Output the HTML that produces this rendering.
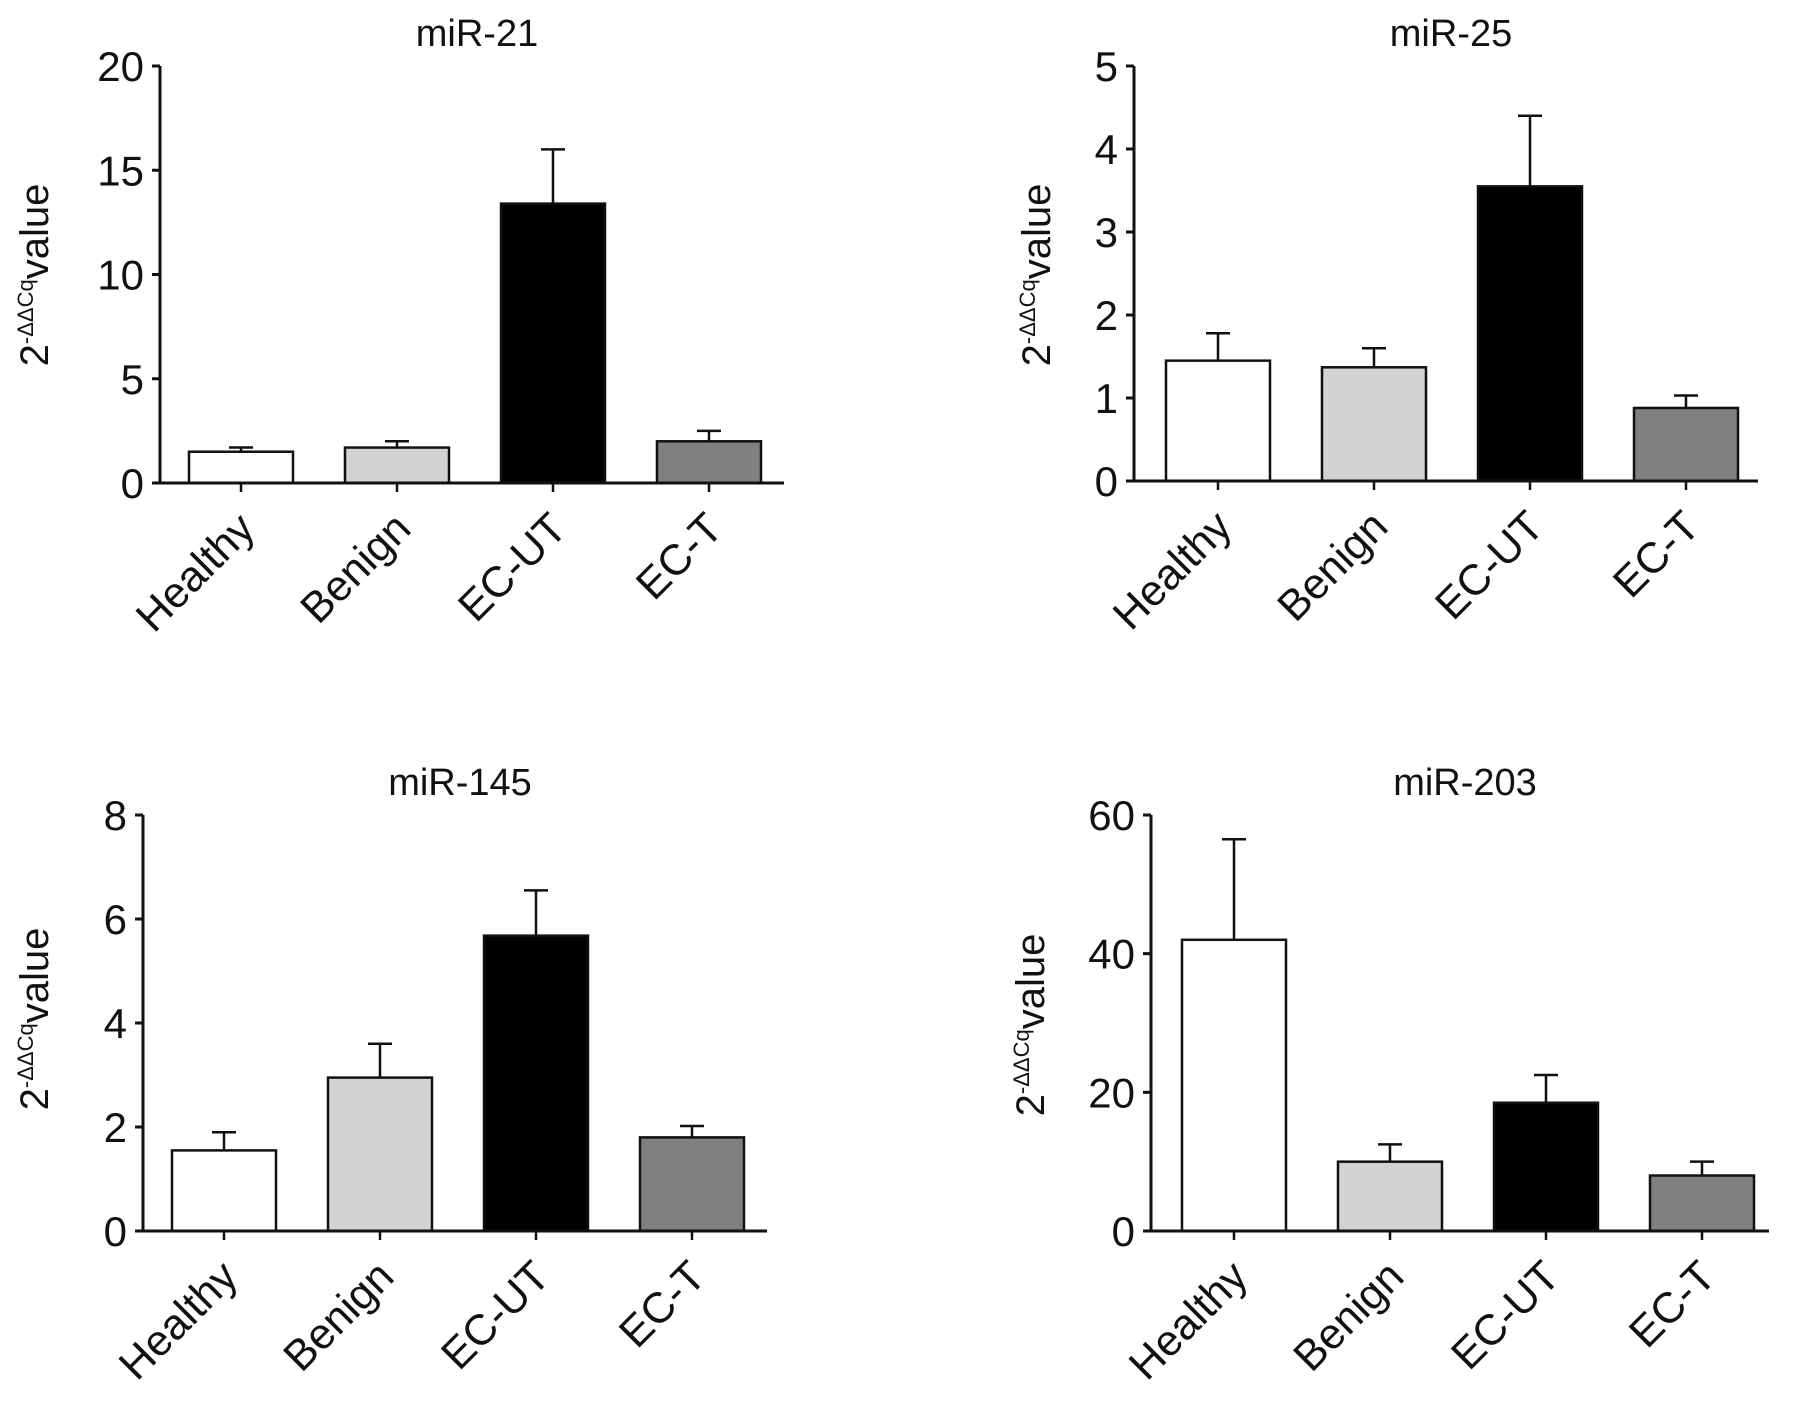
<!DOCTYPE html>
<html><head><meta charset="utf-8"><style>
html,body{margin:0;padding:0;background:#fff;}
svg{display:block;font-family:"Liberation Sans",Arial,sans-serif;}
</style></head><body>
<svg id="fig" width="1795" height="1401" viewBox="0 0 1795 1401" xmlns="http://www.w3.org/2000/svg"></svg>
<script>
const categories = ["Healthy","Benign","EC-UT","EC-T"];
const colors = ["#ffffff","#d3d3d3","#000000","#808080"];
const titles = ["miR-21","miR-25","miR-145","miR-203"];
const mir21Values = [1.5, 1.7, 13.4, 2.0];
const mir21Err = [1.7, 2.0, 16.0, 2.5];
const mir21Ticks = [0,5,10,15,20];
const mir25Values = [1.45, 1.37, 3.55, 0.88];
const mir25Err = [1.78, 1.6, 4.4, 1.03];
const mir25Ticks = [0,1,2,3,4,5];
const mir145Values = [1.55, 2.95, 5.68, 1.8];
const mir145Err = [1.9, 3.6, 6.55, 2.02];
const mir145Ticks = [0,2,4,6,8];
const mir203Values = [42, 10, 18.5, 8];
const mir203Err = [56.5, 12.5, 22.5, 10];
const mir203Ticks = [0,20,40,60];

const panels = [
 {name:"mir-21", title:titles[0], v:mir21Values, e:mir21Err, t:mir21Ticks, ax:160, top:66, zero:483, end:784, bar0:189, labX:34, labY:275},
 {name:"mir-25", title:titles[1], v:mir25Values, e:mir25Err, t:mir25Ticks, ax:1134, top:66, zero:481, end:1758, bar0:1166, labX:1036, labY:275},
 {name:"mir-145", title:titles[2], v:mir145Values, e:mir145Err, t:mir145Ticks, ax:143, top:815, zero:1231, end:767, bar0:172, labX:34, labY:1019},
 {name:"mir-203", title:titles[3], v:mir203Values, e:mir203Err, t:mir203Ticks, ax:1151, top:815, zero:1231, end:1769, bar0:1182, labX:1030, labY:1025}
];
const NS="http://www.w3.org/2000/svg";
const svg=document.getElementById("fig");
function mk(tag,attrs,parent,text){const el=document.createElementNS(NS,tag);for(const k in attrs)el.setAttribute(k,attrs[k]);if(text!==undefined)el.textContent=text;parent.appendChild(el);return el;}
const BW=104, STEP=156;
panels.forEach(p=>{
  const g=mk("g",{},svg);
  
  
  const max=p.t[p.t.length-1];
  const y=v=>p.zero-(v/max)*(p.zero-p.top);
  const xc=i=>p.bar0+i*STEP+BW/2;
  const title=mk("text",{x:(p.ax+p.end)/2+5,y:p.top-20,"font-size":38,"text-anchor":"middle",fill:"#111"},g,p.title);
  
  
  p.v.forEach((v,i)=>{
    const eb=mk("path",{d:`M${xc(i)},${y(v)}V${y(p.e[i])}M${xc(i)-12},${y(p.e[i])}H${xc(i)+12}`,stroke:"#111","stroke-width":2.5,fill:"none"},g);
    
    
    const r=mk("rect",{x:p.bar0+i*STEP,y:y(v),width:BW,height:p.zero-y(v),fill:colors[i],stroke:"#111","stroke-width":2.5},g);
    
    
    mk("line",{x1:xc(i),x2:xc(i),y1:p.zero,y2:p.zero+9,stroke:"#111","stroke-width":2.5},g);
    const lab=mk("text",{x:0,y:0,"font-size":43,"text-anchor":"end",fill:"#111",transform:`translate(${xc(i)+16},${p.zero+48}) rotate(-45)`},g,categories[i]);
    
    
  });
  const ya=mk("line",{x1:p.ax,x2:p.ax,y1:p.top,y2:p.zero,stroke:"#111","stroke-width":3},g);
  
  
  const xa=mk("line",{x1:p.ax-8,x2:p.end,y1:p.zero,y2:p.zero,stroke:"#111","stroke-width":3},g);
  
  
  p.t.forEach(t=>{
    mk("line",{x1:p.ax-8,x2:p.ax,y1:y(t),y2:y(t),stroke:"#111","stroke-width":3},g);
    const tl=mk("text",{x:p.ax-16,y:y(t)+15,"font-size":42,"text-anchor":"end",fill:"#111"},g,String(t));
    
    
  });
  const yl=mk("text",{x:0,y:0,"font-size":40,"text-anchor":"middle",fill:"#111",transform:`translate(${p.labX+14},${p.labY}) rotate(-90)`},g);
  
  
  mk("tspan",{},yl,"2");
  mk("tspan",{"font-size":22,dy:-15},yl,"-ΔΔCq");
  mk("tspan",{dy:15},yl,"value");
});
</script>
</body></html>
